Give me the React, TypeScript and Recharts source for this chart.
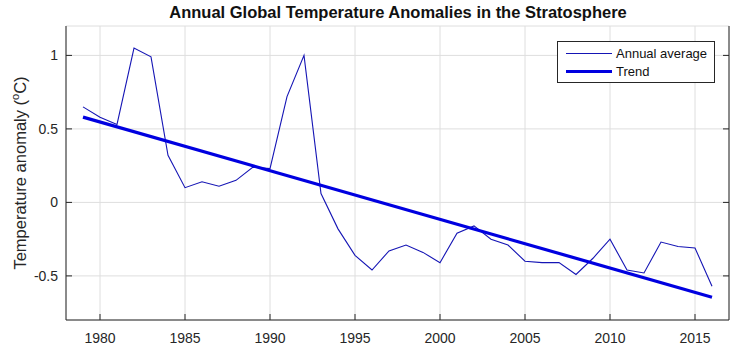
import { LineChart, Line, XAxis, YAxis, CartesianGrid } from "recharts";

const years = [
  1979, 1980, 1981, 1982, 1983, 1984, 1985, 1986, 1987, 1988, 1989, 1990, 1991,
  1992, 1993, 1994, 1995, 1996, 1997, 1998, 1999, 2000, 2001, 2002, 2003, 2004,
  2005, 2006, 2007, 2008, 2009, 2010, 2011, 2012, 2013, 2014, 2015, 2016,
];
const annual = [
  0.65, 0.58, 0.53, 1.05, 0.99, 0.32, 0.1, 0.14, 0.11, 0.15, 0.24, 0.23, 0.72,
  1.0, 0.06, -0.18, -0.36, -0.46, -0.33, -0.29, -0.34, -0.41, -0.21, -0.16, -0.25,
  -0.29, -0.4, -0.41, -0.41, -0.49, -0.38, -0.25, -0.46, -0.48, -0.27, -0.3, -0.31,
  -0.57,
];
const trendYears = [1979, 2016];
const trendValues = [0.58, -0.645];

const xTicks = [1980, 1985, 1990, 1995, 2000, 2005, 2010, 2015];
const yTicks = [-0.5, 0, 0.5, 1];

const annualData = years.map((year, i) => ({ year, value: annual[i] }));
const trendData = trendYears.map((year, i) => ({ year, trend: trendValues[i] }));

const AXIS = "#262626";
const FONT = "'Liberation Sans', Arial, sans-serif";
const TICK_LEN = 6;

function BottomTick({ x, y, payload }: any) {
  return (
    <g>
      <line x1={x} y1={y} x2={x} y2={y - TICK_LEN} stroke={AXIS} strokeWidth={1} />
      <text x={x} y={y + 23} textAnchor="middle" fontSize={14} fill={AXIS} fontFamily={FONT}>
        {payload.value}
      </text>
    </g>
  );
}

function TopTick({ x, y }: any) {
  return <line x1={x} y1={y} x2={x} y2={y + TICK_LEN} stroke={AXIS} strokeWidth={1} />;
}

function LeftTick({ x, y, payload }: any) {
  return (
    <g>
      <line x1={x} y1={y} x2={x + TICK_LEN} y2={y} stroke={AXIS} strokeWidth={1} />
      <text x={x - 8} y={y + 5} textAnchor="end" fontSize={14} fill={AXIS} fontFamily={FONT}>
        {payload.value}
      </text>
    </g>
  );
}

function RightTick({ x, y }: any) {
  return <line x1={x} y1={y} x2={x - TICK_LEN} y2={y} stroke={AXIS} strokeWidth={1} />;
}

function YLabel({ viewBox }: any) {
  const cx = 26;
  const cy = viewBox.y + viewBox.height / 2;
  return (
    <text
      x={cx}
      y={cy}
      transform={`rotate(-90 ${cx} ${cy})`}
      textAnchor="middle"
      fontSize={16.5}
      fill={AXIS}
      fontFamily={FONT}
    >
      Temperature anomaly (
      <tspan fontSize={11} dy={-7}>o</tspan>
      <tspan dy={7}>C)</tspan>
    </text>
  );
}

function LegendBox() {
  return (
    <div
      style={{
        position: "absolute",
        left: 557,
        top: 41,
        width: 158,
        height: 42,
        border: "1px solid #262626",
        background: "#fff",
        boxSizing: "border-box",
        fontFamily: FONT,
        fontSize: 13,
        color: "#111",
        paddingTop: 3,
      }}
    >
      <div style={{ display: "flex", alignItems: "center", height: 17 }}>
        <div style={{ width: 46, height: 1, background: "#1515b5", marginLeft: 8, marginRight: 4 }} />
        <span>Annual average</span>
      </div>
      <div style={{ display: "flex", alignItems: "center", height: 18 }}>
        <div style={{ width: 46, height: 3, background: "#0000e0", marginLeft: 8, marginRight: 4 }} />
        <span>Trend</span>
      </div>
    </div>
  );
}

export default function App() {
  return (
    <div style={{ position: "relative", width: 750, height: 353, background: "#fff" }}>
      <style>{`body{margin:0}`}</style>
      <LineChart
        width={750}
        height={353}
        margin={{ top: 26, right: 0, bottom: 0, left: 0 }}
        style={{ position: "absolute", left: 0, top: 0 }}
      >
        <CartesianGrid stroke="#dedede" strokeWidth={1} xAxisId="b" yAxisId="l" />
        <XAxis
          xAxisId="b"
          dataKey="year"
          type="number"
          domain={[1978, 2017]}
          ticks={xTicks}
          allowDataOverflow
          height={33}
          tickSize={0}
          tickMargin={0}
          tick={<BottomTick />}
          axisLine={{ stroke: AXIS, strokeWidth: 1 }}
          tickLine={false}
        />
        <XAxis
          xAxisId="t"
          orientation="top"
          dataKey="year"
          type="number"
          domain={[1978, 2017]}
          ticks={xTicks}
          allowDataOverflow
          height={0}
          tickSize={0}
          tickMargin={0}
          tick={<TopTick />}
          axisLine={{ stroke: AXIS, strokeWidth: 1 }}
          tickLine={false}
        />
        <YAxis
          yAxisId="l"
          type="number"
          domain={[-0.8, 1.2]}
          ticks={yTicks}
          allowDataOverflow
          width={66}
          tickSize={0}
          tickMargin={0}
          tick={<LeftTick />}
          axisLine={{ stroke: AXIS, strokeWidth: 1 }}
          tickLine={false}
          label={<YLabel />}
        />
        <YAxis
          yAxisId="r"
          orientation="right"
          type="number"
          domain={[-0.8, 1.2]}
          ticks={yTicks}
          allowDataOverflow
          width={21}
          tickSize={0}
          tickMargin={0}
          tick={<RightTick />}
          axisLine={{ stroke: AXIS, strokeWidth: 1 }}
          tickLine={false}
        />
        <Line
          xAxisId="b"
          yAxisId="l"
          data={annualData}
          dataKey="value"
          type="linear"
          stroke="#1515b5"
          strokeWidth={1.1}
          dot={false}
          isAnimationActive={false}
        />
        <Line
          xAxisId="b"
          yAxisId="l"
          data={trendData}
          dataKey="trend"
          type="linear"
          stroke="#0000e0"
          strokeWidth={3.2}
          dot={false}
          isAnimationActive={false}
        />
      </LineChart>
      <div
        style={{
          position: "absolute",
          left: 0,
          top: 3,
          width: 796,
          textAlign: "center",
          fontFamily: FONT,
          fontWeight: "bold",
          fontSize: 16.5,
          color: "#111",
        }}
      >
        Annual Global Temperature Anomalies in the Stratosphere
      </div>
      <LegendBox />
    </div>
  );
}
